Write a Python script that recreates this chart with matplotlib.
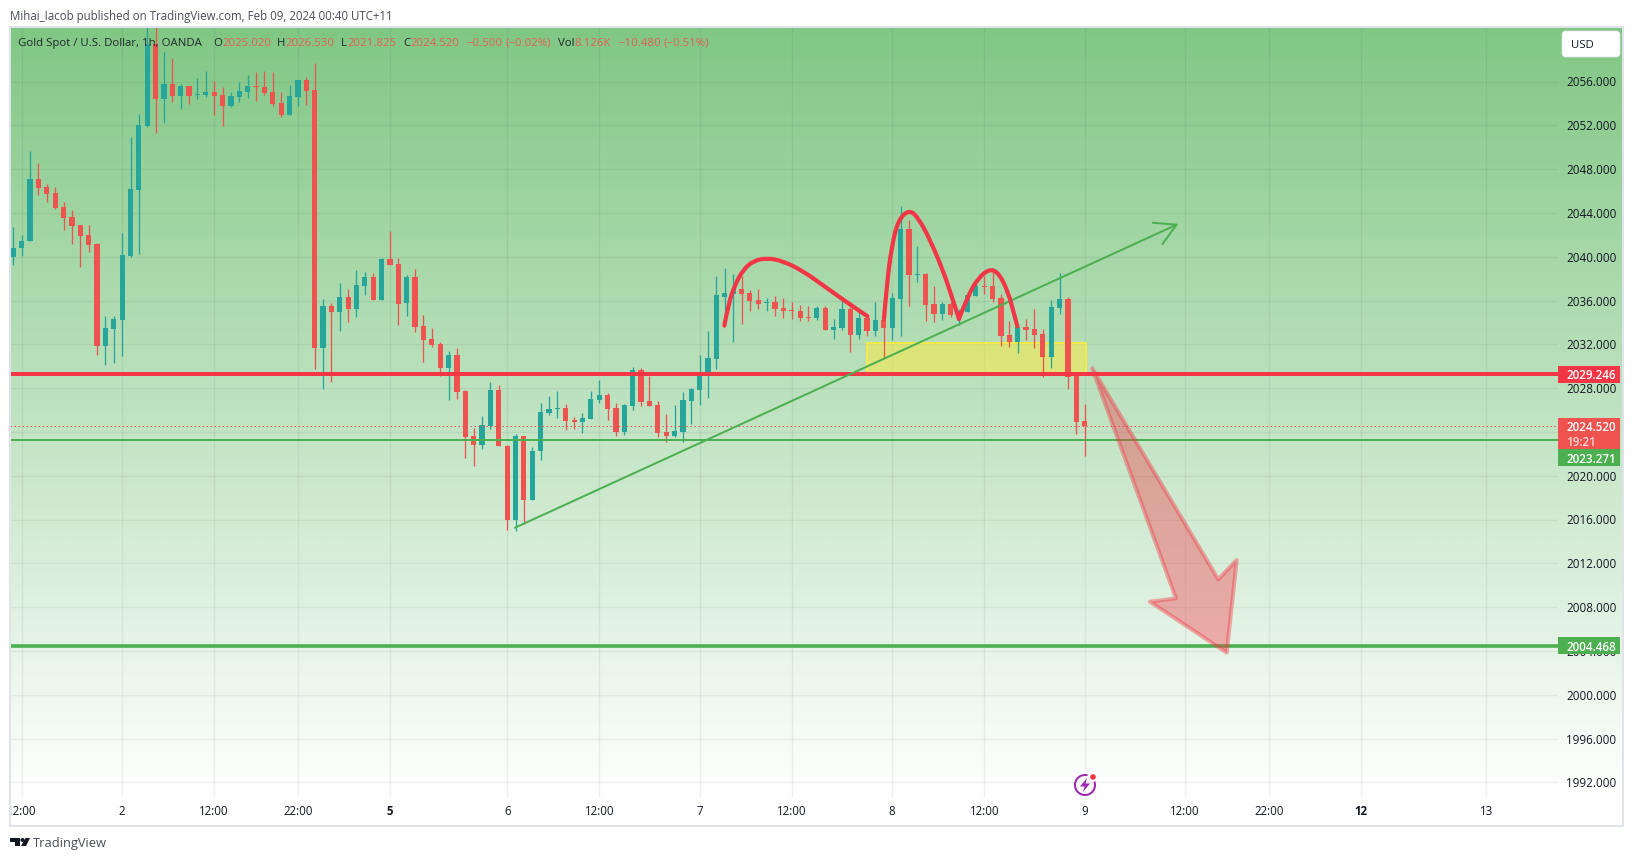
# Gold Spot / USD 1h candles with drawn levels (TradingView snapshot)
import numpy as np
import matplotlib
matplotlib.use('Agg')
import matplotlib.pyplot as plt
from matplotlib.colors import LinearSegmentedColormap
from matplotlib.patches import Rectangle, Polygon, PathPatch, FancyBboxPatch, Circle, Arc
from matplotlib.path import Path
from matplotlib.transforms import Bbox

plt.rcParams['font.family'] = ['Open Sans', 'DejaVu Sans']

#candles
opens = [2039.93,2040.75,2041.39,2047.11,2046.38,2045.83,2044.55,2043.64,2042.91,2042.0,
         2041.17,2031.87,2033.42,2034.25,2040.09,2046.11,2051.95,2059.44,2054.42,2055.79,
         2054.69,2055.6,2054.78,2054.78,2055.06,2054.78,2053.78,2054.6,2055.06,2055.6,
         2055.51,2055.06,2054.05,2052.96,2054.6,2056.15,2055.24,2031.69,2035.53,2034.98,
         2036.35,2035.25,2037.35,2038.17,2036.07,2039.82,2039.36,2035.74,2038.11,2033.64,
         2032.45,2032.0,2029.8,2030.99,2027.7,2023.59,2022.77,2024.51,2027.79,2022.71,
         2015.95,2023.63,2017.78,2022.22,2025.69,2026.06,2026.15,2025.05,2024.87,2025.14,
         2026.88,2027.34,2026.15,2023.96,2026.33,2029.62,2026.79,2026.42,2023.96,2023.59,
         2023.96,2026.79,2027.79,2029.25,2030.62,2036.36,2036.63,2037.09,2036.72,2036.09,
         2035.81,2035.9,2035.35,2035.17,2035.08,2034.53,2034.44,2035.35,2033.35,2033.53,
         2035.26,2032.89,2034.44,2033.25,2034.26,2033.53,2036.18,2042.57,2038.37,2038.46,
         2035.72,2034.81,2035.72,2034.72,2034.99,2036.45,2037.36,2037.36,2036.27,2032.89,
         2032.25,2033.62,2033.44,2032.98,2030.88,2035.35,2036.18,2029.24,2025.02]
highs = [2042.73,2042.0,2049.67,2048.57,2046.65,2046.38,2045.01,2044.28,2042.91,2042.91,
         2041.27,2034.61,2034.61,2042.19,2050.95,2053.05,2060.96,2060.96,2058.71,2058.16,
         2055.79,2055.6,2056.33,2056.97,2056.06,2055.48,2055.06,2055.97,2056.61,2056.88,
         2056.97,2056.88,2055.06,2055.7,2056.15,2056.43,2057.7,2036.16,2035.8,2037.63,
         2037.08,2038.81,2038.63,2038.54,2039.91,2042.37,2039.91,2038.3,2038.84,2034.64,
         2033.46,2032.18,2031.35,2031.63,2027.79,2024.32,2025.42,2028.52,2028.25,2022.8,
         2023.8,2023.63,2022.62,2026.61,2027.25,2027.7,2026.51,2025.33,2025.69,2027.7,
         2028.71,2027.52,2026.61,2026.51,2029.89,2029.8,2029.07,2026.79,2025.6,2026.42,
         2027.61,2027.98,2030.99,2033.18,2038.2,2039.01,2038.46,2038.28,2037.0,2037.09,
         2036.27,2036.45,2036.27,2035.9,2035.63,2035.54,2035.54,2035.54,2034.35,2036.27,
         2035.45,2034.99,2034.62,2035.9,2034.62,2036.72,2044.67,2043.39,2041.02,2038.55,
         2037.36,2035.9,2035.9,2035.2,2036.54,2037.73,2038.28,2038.64,2036.63,2034.17,
         2033.86,2034.35,2035.26,2033.44,2036.09,2038.55,2036.36,2029.24,2026.53]
lows = [2039.26,2040.08,2041.39,2045.65,2045.01,2044.37,2042.45,2041.17,2039.07,2040.44,
        2031.05,2030.14,2030.32,2030.96,2040.0,2040.27,2051.86,2051.31,2052.23,2054.14,
        2053.5,2053.96,2054.42,2054.6,2052.96,2051.95,2053.69,2054.14,2054.51,2054.23,
        2054.78,2053.78,2052.77,2052.96,2053.78,2053.87,2029.77,2027.95,2028.58,2033.24,
        2034.06,2034.52,2036.53,2036.07,2036.07,2039.27,2033.79,2034.55,2033.09,2030.35,
        2031.72,2029.07,2026.88,2026.97,2021.58,2020.85,2022.4,2024.23,2022.68,2015.04,
        2014.95,2015.59,2017.78,2021.43,2025.51,2025.24,2024.14,2024.23,2023.87,2025.14,
        2026.61,2025.05,2023.59,2023.68,2025.97,2026.33,2026.33,2023.5,2023.04,2023.5,
        2023.04,2024.69,2026.42,2027.06,2029.71,2033.95,2032.25,2033.89,2035.08,2035.26,
        2035.08,2034.62,2034.44,2034.35,2034.17,2034.17,2034.26,2033.35,2032.52,2033.35,
        2031.34,2032.52,2032.8,2032.8,2030.7,2032.43,2032.8,2035.54,2037.73,2034.17,
        2034.08,2034.26,2034.53,2033.8,2034.99,2036.45,2036.63,2035.9,2031.88,2031.79,
        2031.25,2032.43,2031.7,2029.05,2029.88,2034.81,2027.96,2023.85,2021.825]
closes = [2040.84,2041.45,2047.11,2046.29,2045.74,2044.46,2043.55,2042.82,2041.91,2041.08,
          2031.87,2033.52,2034.34,2040.18,2046.2,2052.04,2059.44,2054.42,2055.79,2054.69,
          2055.6,2054.69,2054.87,2055.06,2054.69,2053.78,2054.69,2055.15,2055.6,2055.51,
          2054.96,2053.96,2052.96,2054.69,2056.15,2055.15,2031.69,2035.53,2034.98,2036.35,
          2035.25,2037.44,2038.17,2036.07,2039.82,2039.27,2035.71,2038.11,2033.55,2032.36,
          2031.9,2029.8,2030.99,2027.61,2023.5,2022.77,2024.6,2027.79,2022.68,2015.95,
          2023.63,2017.78,2022.25,2025.78,2026.06,2026.15,2024.96,2024.87,2025.24,2026.97,
          2027.34,2026.06,2023.96,2026.42,2029.62,2026.7,2026.33,2023.87,2023.59,2024.05,
          2026.88,2027.88,2029.35,2030.72,2036.47,2036.72,2037.09,2036.63,2035.99,2035.72,
          2035.9,2035.26,2035.08,2035.08,2034.44,2034.44,2035.35,2033.35,2033.62,2035.26,
          2032.89,2034.44,2033.25,2034.26,2033.53,2036.27,2042.57,2038.37,2038.46,2035.63,
          2034.81,2035.72,2034.72,2035.08,2036.54,2037.36,2037.27,2036.18,2032.8,2032.25,
          2033.62,2033.35,2032.89,2030.88,2035.45,2036.18,2029.05,2024.94,2024.52]

#axis labels
price_ticks = [1992,1996,2000,2004,2008,2012,2016,2020,2024,2028,2032,2036,2040,2044,2048,2052,2056]
time_pos = [1,13,24,34,45,59,70,82,93,105,116,128,140,150,161,176]
time_labels = ['12:00','2','12:00','22:00','5','6','12:00','7','12:00','8','12:00','9','12:00','22:00','12','13']
bold_days = ['5','12']

#drawn levels and tools, (bar, price)
level_red = 2029.246
level_green = 2023.271
level_target = 2004.468
last_price = 2024.52
zone_bars = [102.04, 128.1]
zone_prices = [2029.26, 2032.1]
trend_start = (59.93, 2015.25)
trend_end = (139.2, 2043.0)
arc_left = [(84.95,2033.71),(85.42,2035.63),(86.22,2037.46),(87.22,2038.82),(88.41,2039.62),(90.08,2039.89),
            (92.0,2039.59),(94.39,2038.67),(97.18,2037.15),(99.96,2035.63),(102.04,2034.56)]
arc_head = [(104.02,2034.32),(104.34,2037.3),(104.94,2040.96),(105.74,2043.39),(107.05,2044.3),(108.13,2043.54),
            (109.52,2041.56),(111.11,2038.67),(112.11,2036.39),(112.98,2034.32)]
arc_right = [(112.98,2034.32),(114.1,2036.54),(115.3,2038.06),(116.69,2038.92),(117.8,2038.46),
             (118.88,2036.69),(119.48,2035.02),(119.95,2033.65)]
big_arrow = [(128.9,2029.81),(143.96,2010.54),(146.16,2012.3),(144.97,2003.84),(135.8,2008.49),(138.9,2008.8)]

#price tags on the right scale (text, center, height, color)
tags = [('2029.246',2029.246,1.53,'#F23645'),
        ('2023.271',2021.65,1.5,'#4CAF50'),
        ('2004.468',2004.468,1.53,'#4CAF50')]

TEAL = '#26A69A'
RED = '#EF5350'
LINE_RED = '#F23645'
GREEN = '#4CAF50'
TEXT = '#131722'

W, H = 1634, 861
BAR_PX = 8.37
BAR0_PX = 13.33
PX_PER_PRICE = 10.95

def px_to_bar(px):
    return (px-BAR0_PX)/BAR_PX

def py_to_price(py):
    return 2032-(py-344.3)/PX_PER_PRICE

def axes_px(x0,y0,x1,y1):
    return fig.add_axes([x0/W, 1-y1/H, (x1-x0)/W, (y1-y0)/H])

def smooth_patch(points,color,width):
    #quadratic spline through the midpoints
    verts = [points[0]]
    codes = [Path.MOVETO]
    for i in range(1,len(points)-1):
        mid = ((points[i][0]+points[i+1][0])/2,(points[i][1]+points[i+1][1])/2)
        if i == len(points)-2:
            mid = points[-1]
        verts += [points[i],mid]
        codes += [Path.CURVE3,Path.CURVE3]
    return PathPatch(Path(verts,codes),fill=False,edgecolor=color,lw=width,capstyle='round',joinstyle='round',zorder=9)

fig = plt.figure(figsize=(W/100,H/100),dpi=100,facecolor='white')
px = 0.72

#gradient background, also behind the price scale
bg = axes_px(10,27,1623,798)
cmap = LinearSegmentedColormap.from_list('bg',['#81C784','#FFFFFF'])
bg.imshow(np.linspace(0,1,400).reshape(-1,1),aspect='auto',cmap=cmap,extent=[0,1,0,1])
bg.axis('off')

ymin, ymax = py_to_price(798), py_to_price(27)
xmin, xmax = px_to_bar(10), px_to_bar(1558)

ax = axes_px(10,27,1558,798)
ax.patch.set_alpha(0)
ax.set_xlim(xmin,xmax)
ax.set_ylim(ymin,ymax)
for s in ax.spines.values():
    s.set_visible(False)

#grid
ax.hlines(price_ticks,xmin,xmax,color='#2A2E39',alpha=0.065,lw=1.4*px,zorder=1)
ax.vlines(time_pos,ymin,ymax,color='#2A2E39',alpha=0.065,lw=1.4*px,zorder=1)

#zone under the candles
ax.add_patch(Rectangle((zone_bars[0],zone_prices[0]),zone_bars[1]-zone_bars[0],zone_prices[1]-zone_prices[0],
                       facecolor=(1,0.92,0.23,0.5),edgecolor='#FFEB3B',lw=1.6*px,zorder=2))

#candles
bars = np.arange(len(opens))
opens = np.array(opens)
closes = np.array(closes)
colors = [TEAL if c >= o else RED for o,c in zip(opens,closes)]
ax.vlines(bars,lows,highs,color=colors,lw=1.3*px,zorder=3)
ax.bar(bars,np.maximum(np.abs(closes-opens),0.09),bottom=np.minimum(opens,closes),width=5.2/BAR_PX,color=colors,zorder=4,linewidth=0)

#levels
ax.axhline(level_red,color=LINE_RED,lw=4*px,zorder=6)
ax.axhline(level_green,color=GREEN,lw=2*px,zorder=6)
ax.axhline(level_target,color=GREEN,lw=3.6*px,zorder=6)
ax.axhline(last_price,color=RED,lw=1*px,linestyle=(0,(1.5,2.5)),zorder=5)

#trend arrow
ax.annotate('',xy=trend_end,xytext=trend_start,zorder=7,
            arrowprops=dict(arrowstyle='->,head_length=0.75,head_width=0.42',color=GREEN,lw=2*px,shrinkA=0,shrinkB=0,mutation_scale=20))

#hand drawn arcs
for pts in [arc_left,arc_head,arc_right]:
    ax.add_patch(smooth_patch(pts,LINE_RED,4.2*px))

#big down arrow
ax.add_patch(Polygon(big_arrow,closed=True,facecolor=(0.95,0.21,0.27,0.38),edgecolor=(0.95,0.21,0.27,0.4),
                     lw=4*px,joinstyle='round',zorder=8))

#ticks
ax.yaxis.tick_right()
ax.set_yticks(price_ticks)
ax.set_yticklabels(['%.3f' % p for p in price_ticks])
ax.tick_params(axis='y',length=0,pad=8*px,labelsize=8.4,labelcolor=TEXT)
ax.set_xticks(time_pos)
ax.set_xticklabels(time_labels)
ax.tick_params(axis='x',length=0,pad=7*px,labelsize=8.3,labelcolor=TEXT)
clip = Bbox([[11,0],[1623,H]])
for lab in ax.get_xticklabels():
    lab.set_clip_box(clip)
    lab.set_clip_on(True)
    if lab.get_text() in bold_days:
        lab.set_fontweight('bold')

#price scale tags
scale = axes_px(1558,27,1620,798)
scale.patch.set_alpha(0)
scale.axis('off')
scale.set_xlim(0,1)
scale.set_ylim(ymin,ymax)
for text,center,height,color in tags:
    scale.add_patch(Rectangle((0,center-height/2),1,height,facecolor=color,edgecolor='none'))
    scale.text(0.13,center,text,color='white',fontsize=8.4,fontweight='semibold',va='center_baseline',ha='left')
scale.add_patch(Rectangle((0,py_to_price(449.3)),1,py_to_price(418.3)-py_to_price(449.3),facecolor=RED,edgecolor='none'))
scale.text(0.13,py_to_price(426.2),'2024.520',color='white',fontsize=8.4,fontweight='semibold',va='center_baseline',ha='left')
scale.text(0.13,py_to_price(441),'19:21',color='#FFD6D5',fontsize=8.4,fontweight='semibold',va='center_baseline',ha='left')

#page furniture in pixel coordinates
over = fig.add_axes([0,0,1,1])
over.patch.set_alpha(0)
over.axis('off')
over.set_xlim(0,W)
over.set_ylim(H,0)
over.add_patch(Rectangle((10,27),1613,799,fill=False,edgecolor='#E0E3EB',lw=2*px))
over.text(10,15,'Mihai_Iacob published on TradingView.com, Feb 09, 2024 00:40 UTC+11',color='#4A4D57',fontsize=8.3,va='center_baseline')

legend = [(18,'Gold Spot / U.S. Dollar, 1h, OANDA',TEXT),(213,'O',TEXT),(222,'2025.020',RED),(277,'H',TEXT),(285,'2026.530',RED),
          (341,'L',TEXT),(347,'2021.825',RED),(403,'C',TEXT),(410,'2024.520',RED),(466,'\u22120.500',RED),(506,'(\u22120.02%)',RED),
          (558,'Vol',TEXT),(574,'8.126K',RED),(618,'\u221210.480',RED),(664,'(\u22120.51%)',RED)]
for x,text,color in legend:
    over.text(x,41.7,text,color=color,fontsize=8.2,va='center_baseline',alpha=0.9)

#USD button
over.add_patch(FancyBboxPatch((1564,33),54,22,boxstyle='round,pad=2,rounding_size=4',facecolor='white',edgecolor='#E0E3EB',lw=0.5))
over.text(1571,44,'USD',color=TEXT,fontsize=8.2,va='center_baseline')

#lightning icon
over.add_patch(Arc((1085,785),20,20,theta1=-20,theta2=285,edgecolor='#9C27B0',lw=2*px))
over.add_patch(Polygon([(1087,778),(1080,786.5),(1084.5,786.5),(1083,792),(1090,783.5),(1085.5,783.5)],closed=True,facecolor='#9C27B0',edgecolor='none'))
over.add_patch(Circle((1093,777),2.8,facecolor=LINE_RED,edgecolor='none'))

#TradingView logo
over.add_patch(Polygon([(10,838),(20,838),(20,846),(15.5,846),(15.5,842),(10,842)],closed=True,facecolor=TEXT,edgecolor='none'))
over.add_patch(Circle((22.5,840),2,facecolor=TEXT,edgecolor='none'))
over.add_patch(Polygon([(25.5,838),(30,838),(26,846),(21,846)],closed=True,facecolor=TEXT,edgecolor='none'))
over.text(33,842,'TradingView',color='#4A4D57',fontsize=9.3,va='center_baseline')

fig.savefig('out.png',dpi=100)
